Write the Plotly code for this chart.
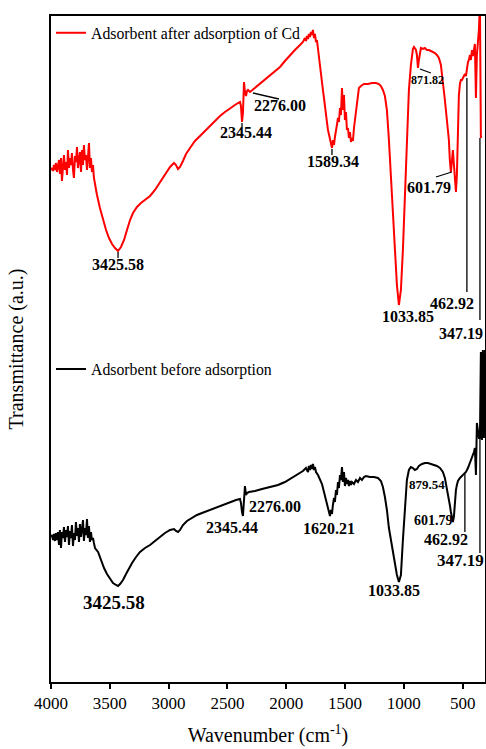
import plotly.graph_objects as go

# ---------------- data ----------------
# Adsorbent after adsorption of Cd (red)
after_wn = [4000, 3992, 3983, 3975, 3966, 3958, 3949, 3941, 3932, 3924, 3915, 3907, 3898, 3890, 3881,
            3873, 3864, 3856, 3847, 3839, 3830, 3822, 3813, 3805, 3796, 3788, 3779, 3771, 3762, 3754,
            3745, 3737, 3728, 3720, 3711, 3703, 3694, 3686, 3677, 3669, 3660, 3652, 3643, 3635, 3626,
            3609, 3584, 3558, 3532, 3507, 3481, 3456, 3430, 3405, 3379, 3354, 3328, 3303, 3269, 3235,
            3201, 3158, 3116, 3073, 3031, 2988, 2954, 2937, 2920, 2903, 2878, 2852, 2818, 2776, 2733,
            2691, 2648, 2606, 2563, 2521, 2478, 2436, 2410, 2393, 2385, 2376, 2368, 2359, 2351, 2342,
            2334, 2325, 2308, 2266, 2223, 2181, 2138, 2096, 2053, 2011, 1968, 1926, 1883, 1858, 1841,
            1832, 1824, 1815, 1807, 1798, 1790, 1781, 1773, 1764, 1756, 1747, 1739, 1730, 1722, 1713,
            1705, 1696, 1688, 1679, 1671, 1662, 1654, 1645, 1637, 1628, 1620, 1611, 1603, 1594, 1586,
            1577, 1569, 1560, 1552, 1543, 1535, 1526, 1518, 1509, 1501, 1492, 1484, 1475, 1467, 1458,
            1450, 1441, 1433, 1424, 1416, 1407, 1399, 1390, 1382, 1365, 1339, 1305, 1271, 1237, 1212,
            1195, 1178, 1161, 1144, 1127, 1110, 1093, 1076, 1059, 1042, 1025, 1008, 991, 974, 957,
            940, 931, 923, 914, 906, 897, 889, 880, 872, 863, 855, 838, 821, 804, 787,
            770, 753, 736, 719, 702, 685, 668, 651, 634, 617, 609, 600, 592, 583, 574,
            566, 557, 549, 540, 532, 523, 515, 506, 498, 489, 481, 472, 464, 455, 447,
            438, 430, 421, 413, 404, 396, 387, 379, 370, 362, 353, 345, 336]
after_t = [512, 514, 511, 517, 512, 519, 510, 516, 522, 508, 524, 501, 519, 527, 512,
           520, 507, 532, 514, 524, 517, 529, 512, 504, 526, 520, 535, 514, 522, 530,
           510, 532, 517, 537, 522, 527, 512, 530, 539, 514, 524, 510, 517, 504, 497,
           487, 474, 462, 452, 444, 438, 434, 431, 435, 442, 452, 462, 469, 475, 479,
           482, 486, 492, 500, 508, 515, 519, 517, 513, 515, 521, 528, 534, 541, 546,
           551, 556, 561, 566, 570, 574, 577, 579, 580, 576, 560, 569, 600, 590, 586,
           591, 592, 590, 594, 598, 602, 606, 610, 615, 621, 627, 632, 637, 640, 644,
           641, 646, 643, 648, 645, 650, 647, 652, 644, 648, 640, 642, 632, 624, 614,
           607, 597, 592, 584, 574, 564, 560, 552, 547, 542, 539, 534, 542, 537, 545,
           550, 557, 564, 560, 574, 567, 594, 572, 587, 562, 570, 552, 554, 544, 550,
           540, 544, 541, 554, 562, 572, 582, 589, 594, 596, 598, 598, 599, 599, 598,
           596, 592, 586, 572, 542, 502, 462, 427, 397, 377, 392, 432, 492, 552, 592,
           617, 630, 633, 635, 634, 632, 627, 614, 622, 632, 634, 633, 634, 632, 632,
           631, 630, 629, 627, 624, 617, 602, 582, 562, 542, 522, 510, 520, 532, 517,
           497, 490, 507, 562, 587, 598, 602, 602, 604, 607, 608, 606, 614, 620, 622,
           627, 622, 632, 626, 634, 638, 584, 627, 640, 652, 677, 545, 545]

# Adsorbent before adsorption (black)
before_wn = [4000, 3992, 3983, 3975, 3966, 3958, 3949, 3941, 3932, 3924, 3915, 3907, 3898, 3890, 3881,
             3873, 3864, 3856, 3847, 3839, 3830, 3822, 3813, 3805, 3796, 3788, 3779, 3771, 3762, 3754,
             3745, 3737, 3728, 3720, 3711, 3703, 3694, 3686, 3677, 3669, 3660, 3652, 3643, 3635, 3626,
             3600, 3575, 3549, 3524, 3498, 3473, 3447, 3430, 3413, 3388, 3362, 3337, 3311, 3277, 3243,
             3201, 3158, 3116, 3073, 3031, 2988, 2954, 2937, 2920, 2903, 2878, 2844, 2801, 2759, 2716,
             2674, 2606, 2546, 2478, 2427, 2393, 2385, 2376, 2368, 2359, 2351, 2342, 2334, 2317, 2266,
             2206, 2138, 2070, 2011, 1951, 1900, 1858, 1832, 1815, 1807, 1798, 1790, 1781, 1773, 1764,
             1756, 1747, 1730, 1713, 1696, 1679, 1662, 1645, 1637, 1628, 1620, 1611, 1603, 1594, 1586,
             1577, 1569, 1560, 1552, 1543, 1535, 1526, 1518, 1509, 1501, 1492, 1484, 1475, 1467, 1458,
             1450, 1441, 1424, 1407, 1390, 1373, 1356, 1339, 1322, 1288, 1254, 1220, 1195, 1178, 1161,
             1144, 1127, 1110, 1093, 1076, 1059, 1042, 1025, 1008, 991, 974, 957, 940, 923, 906,
             889, 872, 846, 821, 795, 770, 744, 719, 693, 668, 651, 634, 617, 609, 600,
             592, 583, 574, 566, 557, 549, 540, 523, 506, 489, 472, 455, 438, 421, 413,
             404, 396, 387, 379, 370, 362, 353, 345, 336, 328, 319, 310]
before_t = [145, 147, 142, 148, 141, 149, 142, 150, 137, 152, 134, 150, 144, 155, 140,
            152, 145, 156, 137, 151, 144, 157, 136, 149, 142, 160, 146, 154, 140, 158,
            145, 152, 162, 141, 154, 147, 163, 144, 156, 140, 150, 142, 144, 139, 134,
            130, 122, 114, 108, 103, 99, 97, 96, 98, 102, 108, 114, 119, 125, 130,
            134, 137, 141, 145, 149, 152, 153, 151, 150, 152, 157, 161, 164, 167, 169,
            171, 174, 177, 180, 182, 183, 179, 170, 166, 182, 196, 187, 189, 190, 191,
            193, 195, 197, 200, 204, 208, 211, 214, 210, 216, 212, 217, 213, 218, 212,
            215, 210, 207, 203, 198, 190, 182, 175, 170, 166, 172, 168, 177, 184, 180,
            192, 187, 200, 194, 207, 202, 215, 200, 210, 196, 204, 198, 202, 196, 201,
            197, 200, 198, 202, 200, 204, 202, 205, 206, 205, 205, 204, 201, 195, 185,
            172, 154, 142, 134, 120, 107, 100, 107, 142, 175, 202, 212, 215, 214, 212,
            213, 216, 218, 219, 219, 218, 217, 216, 214, 210, 204, 194, 184, 177, 170,
            163, 160, 166, 180, 192, 197, 201, 204, 206, 208, 210, 214, 219, 224, 227,
            230, 234, 207, 259, 252, 244, 244, 330, 242, 332, 244, 332]

# peak labels
after_labels = ["3425.58", "2345.44", "2276.00", "1589.34", "1033.85", "462.92", "347.19", "601.79", "871.82"]
after_lab_wn = [3430, 2342, 2053, 1603, 965, 591, 515, 787, 795]
after_lab_t = [418, 550, 577, 521, 366, 379, 349, 495, 602]
after_lab_size = [16, 16, 16, 16, 16, 16, 16, 16, 12]

before_labels = ["3425.58", "2345.44", "2276.00", "1620.21", "1033.85", "879.54", "601.79", "462.92", "347.19"]
before_lab_wn = [3464, 2461, 2096, 1637, 1084, 804, 745, 642, 515]
before_lab_t = [80, 155, 176, 154, 92, 198, 162, 143, 122]
before_lab_size = [19, 16, 16, 16, 16, 13, 14, 16, 17]

# leader lines (wavenumber, transmittance) start/end pairs
after_lead_wn = [(3430, 3430), (2376, 2376), (2283, 2062), (1611, 1611), (464, 464), (353, 353), (727, 592), (863, 770)]
after_lead_t = [(430, 424), (559, 555), (589, 583), (533, 527), (604, 390), (544, 362), (505, 510), (613, 609)]
before_lead_wn = [(481, 481), (353, 353)]
before_lead_t = [(208, 150), (244, 129)]

x_ticks = [4000, 3500, 3000, 2500, 2000, 1500, 1000, 500]

FONT = "Liberation Serif"

fig = go.Figure()
fig.add_trace(go.Scatter(x=after_wn, y=after_t, mode="lines", name="Adsorbent after adsorption of Cd",
                         line=dict(color="#ff0000", width=2), legend="legend"))
fig.add_trace(go.Scatter(x=before_wn, y=before_t, mode="lines", name="Adsorbent before adsorption",
                         line=dict(color="#000000", width=2), legend="legend2"))

def leader_xy(wns, ts):
    xs, ys = [], []
    for (a, b), (c, d) in zip(wns, ts):
        xs += [a, b, None]
        ys += [c, d, None]
    return xs, ys

lx, ly = leader_xy(after_lead_wn + before_lead_wn, after_lead_t + before_lead_t)
fig.add_trace(go.Scatter(x=lx, y=ly, mode="lines", line=dict(color="black", width=1.3),
                         showlegend=False, hoverinfo="skip"))

for txt, xw, yt, s in zip(after_labels + before_labels, after_lab_wn + before_lab_wn,
                          after_lab_t + before_lab_t, after_lab_size + before_lab_size):
    fig.add_annotation(x=xw, y=yt, text=txt, showarrow=False,
                       font=dict(family=FONT, size=s, color="black", weight="bold"))

fig.update_layout(
    width=486, height=749,
    margin=dict(l=51, r=1, t=16, b=67, autoexpand=False),
    plot_bgcolor="white", paper_bgcolor="white",
    font=dict(family=FONT, color="black"),
    legend=dict(x=0, y=1, xanchor="left", yanchor="top", bgcolor="rgba(0,0,0,0)",
                font=dict(family=FONT, size=15.8), tracegroupgap=0, itemwidth=30),
    legend2=dict(x=0, y=0.495, xanchor="left", yanchor="top", bgcolor="rgba(0,0,0,0)",
                 font=dict(family=FONT, size=15.8), itemwidth=30),
)
fig.update_xaxes(range=[4000, 310], tickvals=x_ticks, ticktext=[str(v) for v in x_ticks],
                 ticks="outside", ticklen=5, tickwidth=1.5, tickcolor="black",
                 showline=True, linecolor="black", linewidth=1.5, mirror=True,
                 showgrid=False, zeroline=False, automargin=False,
                 tickfont=dict(family=FONT, size=17),
                 title=dict(text="Wavenumber (cm<sup>-1</sup>)", font=dict(family=FONT, size=20), standoff=16))
fig.update_yaxes(range=[0, 666], showticklabels=False, ticks="",
                 showline=True, linecolor="black", linewidth=1.5, mirror=True,
                 showgrid=False, zeroline=False, automargin=False,
                 title=dict(text="Transmittance (a.u.)", font=dict(family=FONT, size=20), standoff=20))

fig.write_html("out.html", config={"displayModeBar": False},
               post_script="document.body.style.margin='0';document.body.style.overflow='hidden';")
